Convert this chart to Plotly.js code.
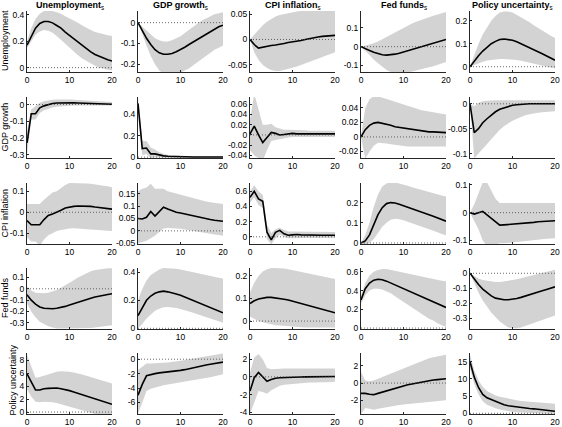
<!DOCTYPE html>
<html><head><meta charset="utf-8">
<script src="https://cdn.plot.ly/plotly-3.0.1.min.js"></script>
<style>html,body{margin:0;padding:0;background:#fff;overflow:hidden}#chart{width:562px;height:427px}</style>
</head><body><div id="chart"></div>
<script>
const horizon = [0,1,2,3,4,5,6,7,8,9,10,11,12,13,14,15,16,17,18,19,20];
const variables = ["Unemployment","GDP growth","CPI inflation","Fed funds","Policy uncertainty"];

// Row: Unemployment response
const mid_u_u = [0.17,0.24,0.30,0.335,0.35,0.35,0.34,0.32,0.30,0.27,0.245,0.22,0.19,0.165,0.14,0.12,0.10,0.085,0.07,0.06,0.05];
const lo_u_u  = [0.15,0.2,0.25,0.275,0.285,0.28,0.265,0.24,0.21,0.18,0.15,0.12,0.095,0.07,0.05,0.03,0.015,0.0,-0.01,-0.015,-0.02];
const hi_u_u  = [0.2,0.3,0.37,0.41,0.43,0.43,0.43,0.42,0.41,0.39,0.375,0.36,0.34,0.32,0.3,0.285,0.27,0.26,0.25,0.245,0.24];
const mid_u_g = [0,-0.04,-0.075,-0.105,-0.13,-0.145,-0.152,-0.152,-0.148,-0.14,-0.13,-0.118,-0.105,-0.093,-0.08,-0.068,-0.055,-0.043,-0.032,-0.02,-0.012];
const lo_u_g  = [0,-0.06,-0.11,-0.16,-0.2,-0.23,-0.245,-0.25,-0.25,-0.245,-0.24,-0.23,-0.22,-0.205,-0.19,-0.175,-0.16,-0.145,-0.13,-0.12,-0.11];
const hi_u_g  = [0,-0.02,-0.04,-0.06,-0.075,-0.085,-0.09,-0.09,-0.085,-0.075,-0.065,-0.05,-0.035,-0.02,-0.005,0.01,0.02,0.03,0.04,0.045,0.05];
const mid_u_c = [0,-0.01,-0.017,-0.015,-0.013,-0.012,-0.011,-0.01,-0.008,-0.006,-0.005,-0.003,-0.002,0,0.002,0.004,0.005,0.006,0.007,0.008,0.008];
const lo_u_c  = [0,-0.025,-0.04,-0.05,-0.056,-0.06,-0.062,-0.062,-0.06,-0.058,-0.056,-0.053,-0.05,-0.047,-0.043,-0.04,-0.037,-0.034,-0.031,-0.028,-0.025];
const hi_u_c  = [0,0.01,0.02,0.028,0.035,0.04,0.045,0.048,0.05,0.052,0.054,0.055,0.056,0.056,0.057,0.057,0.057,0.057,0.057,0.057,0.057];
const mid_u_f = [0,-0.008,-0.02,-0.03,-0.038,-0.043,-0.045,-0.044,-0.04,-0.035,-0.028,-0.021,-0.014,-0.007,0,0.007,0.014,0.02,0.026,0.032,0.038];
const lo_u_f  = [0,-0.02,-0.045,-0.07,-0.09,-0.11,-0.125,-0.135,-0.14,-0.14,-0.14,-0.138,-0.133,-0.128,-0.122,-0.116,-0.11,-0.104,-0.098,-0.09,-0.082];
const hi_u_f  = [0,0.005,0.01,0.018,0.028,0.04,0.052,0.065,0.078,0.09,0.102,0.113,0.123,0.133,0.142,0.15,0.158,0.165,0.172,0.178,0.185];
const mid_u_p = [0,0.025,0.048,0.068,0.085,0.1,0.11,0.118,0.12,0.119,0.115,0.108,0.1,0.092,0.083,0.074,0.065,0.056,0.047,0.038,0.028];
const lo_u_p  = [0,0.008,0.015,0.022,0.027,0.03,0.033,0.034,0.034,0.033,0.031,0.029,0.026,0.022,0.018,0.014,0.01,0.006,0.002,-0.003,-0.008];
const hi_u_p  = [0,0.05,0.1,0.14,0.17,0.2,0.22,0.235,0.24,0.24,0.235,0.225,0.215,0.205,0.193,0.18,0.168,0.157,0.146,0.135,0.125];

// Row: GDP growth response
const mid_g_u = [-0.23,-0.055,-0.055,-0.02,-0.008,0.0,0.006,0.009,0.01,0.01,0.01,0.01,0.009,0.008,0.007,0.006,0.005,0.004,0.003,0.002,0.002];
const lo_g_u  = [-0.3,-0.09,-0.09,-0.05,-0.035,-0.025,-0.018,-0.013,-0.01,-0.008,-0.007,-0.006,-0.006,-0.006,-0.006,-0.006,-0.006,-0.006,-0.006,-0.006,-0.006];
const hi_g_u  = [-0.16,-0.03,-0.01,0.01,0.02,0.025,0.028,0.03,0.031,0.03,0.03,0.028,0.027,0.025,0.023,0.022,0.02,0.018,0.017,0.016,0.015];
const mid_g_g = [0.5,0.08,0.085,0.03,0.03,0.018,0.012,0.008,0.006,0.005,0.004,0.003,0.003,0.002,0.002,0.002,0.001,0.001,0.001,0.001,0.001];
const lo_g_g  = [0.45,0.02,0.03,-0.01,0.0,-0.005,-0.005,-0.005,-0.004,-0.004,-0.003,-0.003,-0.003,-0.003,-0.003,-0.003,-0.003,-0.003,-0.003,-0.003,-0.003];
const hi_g_g  = [0.55,0.15,0.15,0.09,0.07,0.045,0.03,0.02,0.015,0.012,0.01,0.009,0.008,0.007,0.006,0.006,0.005,0.005,0.005,0.005,0.005];
const mid_g_c = [0.002,0.017,0.0,-0.015,-0.005,0.005,0.003,0.0,0.001,0.002,0.003,0.002,0.002,0.002,0.002,0.002,0.002,0.002,0.002,0.002,0.002];
const lo_g_c  = [-0.03,-0.04,-0.045,-0.05,-0.03,-0.012,-0.01,-0.008,-0.006,-0.005,-0.004,-0.004,-0.004,-0.004,-0.004,-0.004,-0.004,-0.004,-0.004,-0.004,-0.004];
const hi_g_c  = [0.03,0.08,0.05,0.02,0.02,0.022,0.015,0.012,0.01,0.01,0.01,0.009,0.009,0.009,0.008,0.008,0.008,0.008,0.008,0.008,0.008];
const mid_g_f = [0,0.01,0.016,0.019,0.02,0.019,0.018,0.016,0.014,0.013,0.012,0.011,0.01,0.009,0.008,0.007,0.007,0.007,0.007,0.006,0.006];
const lo_g_f  = [0,-0.03,-0.02,-0.012,-0.008,-0.008,-0.009,-0.01,-0.011,-0.012,-0.013,-0.013,-0.013,-0.013,-0.013,-0.013,-0.013,-0.013,-0.013,-0.013,-0.013];
const hi_g_f  = [0,0.04,0.052,0.056,0.056,0.054,0.052,0.05,0.048,0.046,0.044,0.042,0.04,0.039,0.037,0.036,0.035,0.034,0.033,0.032,0.031];
const mid_g_p = [0,-0.058,-0.05,-0.038,-0.03,-0.022,-0.016,-0.011,-0.008,-0.005,-0.003,-0.002,-0.001,0,0,0,0,0,0,0,0];
const lo_g_p  = [0,-0.11,-0.1,-0.09,-0.08,-0.07,-0.06,-0.052,-0.045,-0.039,-0.034,-0.03,-0.026,-0.023,-0.021,-0.019,-0.018,-0.017,-0.016,-0.015,-0.015];
const hi_g_p  = [0,-0.005,0.002,0.005,0.006,0.007,0.007,0.007,0.007,0.007,0.007,0.007,0.007,0.007,0.007,0.007,0.007,0.007,0.007,0.007,0.007];

// Row: CPI inflation response
const mid_c_u = [-0.04,-0.06,-0.06,-0.06,-0.035,-0.015,-0.008,0.0,0.01,0.02,0.025,0.028,0.03,0.03,0.03,0.028,0.025,0.022,0.02,0.017,0.015];
const lo_c_u  = [-0.12,-0.14,-0.14,-0.16,-0.13,-0.11,-0.1,-0.09,-0.085,-0.08,-0.078,-0.077,-0.078,-0.079,-0.08,-0.081,-0.082,-0.084,-0.086,-0.088,-0.09];
const hi_c_u  = [0.04,0.04,0.04,0.04,0.06,0.08,0.095,0.1,0.115,0.13,0.14,0.14,0.14,0.14,0.138,0.136,0.134,0.13,0.127,0.124,0.12];
const mid_c_g = [0.05,0.048,0.055,0.078,0.06,0.078,0.095,0.088,0.08,0.075,0.072,0.068,0.064,0.06,0.056,0.052,0.049,0.046,0.043,0.041,0.039];
const lo_c_g  = [-0.05,-0.045,-0.04,-0.03,-0.02,-0.005,0.01,0.012,0.012,0.01,0.008,0.005,0.002,-0.002,-0.005,-0.008,-0.01,-0.013,-0.015,-0.017,-0.02];
const hi_c_g  = [0.16,0.17,0.175,0.19,0.17,0.17,0.17,0.16,0.155,0.15,0.145,0.14,0.135,0.13,0.126,0.122,0.118,0.115,0.112,0.11,0.108];
const mid_c_c = [0.52,0.6,0.5,0.47,0.06,-0.04,0.06,0.085,0.04,0.02,0.025,0.03,0.025,0.022,0.02,0.02,0.02,0.02,0.02,0.02,0.02];
const lo_c_c  = [0.45,0.52,0.42,0.38,-0.03,-0.1,-0.02,0.03,0.0,-0.02,-0.02,-0.015,-0.015,-0.015,-0.015,-0.015,-0.015,-0.015,-0.015,-0.015,-0.015];
const hi_c_c  = [0.6,0.68,0.6,0.55,0.16,0.05,0.1,0.12,0.09,0.07,0.07,0.07,0.07,0.065,0.065,0.065,0.065,0.065,0.065,0.065,0.065];
const mid_c_f = [0,0.01,0.04,0.09,0.14,0.175,0.195,0.2,0.198,0.192,0.185,0.178,0.17,0.162,0.155,0.147,0.14,0.132,0.125,0.117,0.108];
const lo_c_f  = [0,-0.01,0.0,0.02,0.05,0.08,0.1,0.115,0.12,0.118,0.112,0.105,0.097,0.09,0.082,0.074,0.067,0.06,0.053,0.045,0.038];
const hi_c_f  = [0,0.04,0.1,0.18,0.24,0.28,0.295,0.3,0.3,0.295,0.29,0.283,0.276,0.27,0.263,0.257,0.25,0.245,0.24,0.235,0.23];
const mid_c_p = [0,-0.005,0.0,0.005,-0.008,-0.02,-0.03,-0.045,-0.044,-0.043,-0.042,-0.04,-0.039,-0.038,-0.036,-0.035,-0.033,-0.032,-0.031,-0.03,-0.029];
const lo_c_p  = [0,-0.03,-0.06,-0.1,-0.12,-0.12,-0.115,-0.11,-0.11,-0.11,-0.108,-0.106,-0.104,-0.102,-0.1,-0.098,-0.097,-0.095,-0.094,-0.093,-0.092];
const hi_c_p  = [0,0.03,0.07,0.11,0.11,0.08,0.05,0.035,0.035,0.035,0.035,0.035,0.035,0.035,0.035,0.035,0.035,0.035,0.035,0.035,0.035];

// Row: Fed funds response
const mid_f_u = [-0.053,-0.1,-0.135,-0.16,-0.172,-0.177,-0.176,-0.172,-0.165,-0.155,-0.143,-0.13,-0.118,-0.106,-0.095,-0.083,-0.073,-0.064,-0.056,-0.05,-0.044];
const lo_f_u  = [-0.13,-0.2,-0.25,-0.29,-0.31,-0.33,-0.34,-0.35,-0.35,-0.35,-0.35,-0.35,-0.35,-0.35,-0.35,-0.345,-0.34,-0.335,-0.33,-0.325,-0.32];
const hi_f_u  = [0.02,-0.015,-0.035,-0.04,-0.04,-0.035,-0.025,-0.01,0.01,0.03,0.05,0.075,0.1,0.12,0.14,0.155,0.165,0.172,0.178,0.18,0.18];
const mid_f_g = [0.09,0.15,0.2,0.23,0.25,0.26,0.265,0.26,0.255,0.245,0.235,0.222,0.21,0.197,0.183,0.17,0.157,0.145,0.133,0.12,0.11];
const lo_f_g  = [0.0,0.03,0.07,0.1,0.125,0.14,0.15,0.152,0.15,0.145,0.138,0.13,0.12,0.11,0.1,0.09,0.08,0.07,0.06,0.05,0.04];
const hi_f_g  = [0.2,0.28,0.34,0.38,0.4,0.42,0.43,0.43,0.43,0.425,0.42,0.413,0.405,0.398,0.39,0.383,0.376,0.37,0.365,0.36,0.355];
const mid_f_c = [0.078,0.09,0.098,0.103,0.105,0.105,0.103,0.1,0.097,0.093,0.088,0.083,0.078,0.073,0.068,0.063,0.058,0.052,0.047,0.042,0.037];
const lo_f_c  = [0.02,0.01,0.0,-0.005,-0.01,-0.015,-0.018,-0.02,-0.022,-0.024,-0.025,-0.026,-0.027,-0.028,-0.028,-0.028,-0.028,-0.028,-0.028,-0.028,-0.028];
const hi_f_c  = [0.127,0.17,0.2,0.22,0.23,0.235,0.235,0.235,0.233,0.23,0.226,0.222,0.218,0.214,0.21,0.206,0.202,0.198,0.194,0.19,0.186];
const mid_f_f = [0.3,0.42,0.48,0.51,0.52,0.515,0.5,0.48,0.46,0.44,0.42,0.4,0.38,0.36,0.34,0.32,0.3,0.28,0.26,0.24,0.22];
const lo_f_f  = [0.26,0.35,0.4,0.42,0.42,0.41,0.39,0.37,0.34,0.31,0.28,0.25,0.22,0.19,0.16,0.13,0.1,0.08,0.05,0.03,0.01];
const hi_f_f  = [0.35,0.48,0.56,0.6,0.62,0.63,0.63,0.62,0.61,0.6,0.59,0.58,0.57,0.56,0.55,0.54,0.53,0.52,0.51,0.505,0.5];
const mid_f_p = [0,-0.04,-0.075,-0.105,-0.13,-0.15,-0.165,-0.172,-0.176,-0.176,-0.173,-0.168,-0.16,-0.152,-0.143,-0.134,-0.125,-0.116,-0.107,-0.098,-0.09];
const lo_f_p  = [0,-0.07,-0.13,-0.18,-0.22,-0.26,-0.29,-0.32,-0.34,-0.36,-0.365,-0.365,-0.36,-0.35,-0.34,-0.33,-0.32,-0.31,-0.3,-0.29,-0.28];
const hi_f_p  = [0,-0.02,-0.035,-0.045,-0.05,-0.055,-0.058,-0.058,-0.055,-0.05,-0.045,-0.04,-0.033,-0.026,-0.018,-0.01,-0.003,0.005,0.012,0.018,0.024];

// Row: Policy uncertainty response
const mid_p_u = [5.9,4.7,3.4,3.4,3.6,3.65,3.7,3.7,3.6,3.5,3.3,3.1,2.9,2.7,2.5,2.3,2.1,1.85,1.6,1.4,1.2];
const lo_p_u  = [3.5,2.4,1.6,1.5,1.6,1.6,1.5,1.4,1.2,1.0,0.8,0.6,0.4,0.2,0.0,-0.2,-0.3,-0.4,-0.4,-0.4,-0.4];
const hi_p_u  = [8.8,7.0,5.3,5.4,5.6,5.9,6.1,6.2,6.3,6.3,6.2,6.1,6.0,5.8,5.6,5.4,5.2,5.0,4.8,4.6,4.4];
const mid_p_g = [-5,-3.5,-2.3,-2.1,-2.0,-1.9,-1.85,-1.8,-1.75,-1.65,-1.55,-1.45,-1.3,-1.15,-1.0,-0.9,-0.8,-0.7,-0.6,-0.5,-0.4];
const lo_p_g  = [-7.6,-6,-4.4,-4.1,-3.9,-3.7,-3.6,-3.5,-3.4,-3.35,-3.3,-3.2,-3.1,-3.0,-2.9,-2.75,-2.6,-2.5,-2.35,-2.2,-2.1];
const hi_p_g  = [-1.5,-1.0,-0.6,-0.6,-0.6,-0.55,-0.5,-0.45,-0.4,-0.3,-0.2,-0.1,0.0,0.1,0.2,0.3,0.4,0.5,0.6,0.7,0.8];
const mid_p_c = [-1.6,-0.1,0.5,0.0,-0.5,-0.3,-0.15,-0.1,-0.1,-0.08,-0.05,-0.03,-0.02,0.0,0.0,0.01,0.02,0.03,0.04,0.05,0.05];
const lo_p_c  = [-4.2,-2.8,-1.6,-1.7,-1.9,-1.5,-1.2,-1.0,-0.9,-0.85,-0.8,-0.75,-0.7,-0.7,-0.65,-0.65,-0.6,-0.6,-0.6,-0.55,-0.55];
const hi_p_c  = [0.5,2.2,2.6,2.0,1.0,0.85,0.9,0.95,0.95,0.95,0.95,0.95,0.95,0.95,0.95,0.95,0.95,0.95,0.95,0.95,0.95];
const mid_p_f = [-1.2,-1.2,-1.3,-1.35,-1.2,-1.05,-0.9,-0.75,-0.6,-0.45,-0.3,-0.2,-0.1,0.0,0.1,0.2,0.3,0.35,0.4,0.45,0.5];
const lo_p_f  = [-3.6,-2.9,-3.0,-3.1,-3.0,-2.9,-2.8,-2.7,-2.6,-2.55,-2.5,-2.45,-2.4,-2.35,-2.3,-2.25,-2.2,-2.15,-2.1,-2.05,-2.0];
const hi_p_f  = [1.3,0.3,0.2,0.3,0.5,0.7,0.9,1.1,1.3,1.5,1.7,1.9,2.1,2.3,2.5,2.7,2.9,3.0,3.1,3.2,3.3];
const mid_p_p = [15,10.5,7.5,5.5,4.5,4.0,3.4,2.9,2.5,2.2,2.0,1.85,1.7,1.55,1.4,1.3,1.15,1.0,0.9,0.75,0.6];
const lo_p_p  = [13,8.5,5.5,3.5,2.5,1.9,1.5,1.1,0.8,0.6,0.4,0.3,0.2,0.1,0.05,0.0,0,-0.05,-0.1,-0.1,-0.1];
const hi_p_p  = [17,12.5,9.5,7.7,6.5,5.8,5.2,4.8,4.5,4.2,4.0,3.8,3.6,3.5,3.4,3.3,3.2,3.1,3.0,2.9,2.8];

// y tick values per panel (row-major)
const yTicks = [
  [0,0.2,0.4],[-0.2,-0.1,0],[-0.05,0,0.05],[-0.1,0,0.1],[0,0.1,0.2],
  [-0.3,-0.2,-0.1,0],[0,0.2,0.4],[-0.04,-0.02,0,0.02,0.04,0.06],[-0.02,0,0.02,0.04],[-0.1,-0.05,0],
  [-0.1,0,0.1],[-0.05,0,0.05,0.1,0.15],[0,0.2,0.4,0.6],[0,0.1,0.2],[-0.1,0,0.1],
  [-0.3,-0.2,-0.1,0,0.1],[0,0.2,0.4],[0,0.1,0.2],[0,0.2,0.4,0.6],[-0.3,-0.2,-0.1,0],
  [0,2,4,6,8],[-6,-4,-2,0],[-4,-2,0,2],[-2,0,2],[0,5,10,15]
];
const xTicks = [0,10,20];

// ---- assembly ----
const panels = [
  [mid_u_u,lo_u_u,hi_u_u],[mid_u_g,lo_u_g,hi_u_g],[mid_u_c,lo_u_c,hi_u_c],[mid_u_f,lo_u_f,hi_u_f],[mid_u_p,lo_u_p,hi_u_p],
  [mid_g_u,lo_g_u,hi_g_u],[mid_g_g,lo_g_g,hi_g_g],[mid_g_c,lo_g_c,hi_g_c],[mid_g_f,lo_g_f,hi_g_f],[mid_g_p,lo_g_p,hi_g_p],
  [mid_c_u,lo_c_u,hi_c_u],[mid_c_g,lo_c_g,hi_c_g],[mid_c_c,lo_c_c,hi_c_c],[mid_c_f,lo_c_f,hi_c_f],[mid_c_p,lo_c_p,hi_c_p],
  [mid_f_u,lo_f_u,hi_f_u],[mid_f_g,lo_f_g,hi_f_g],[mid_f_c,lo_f_c,hi_f_c],[mid_f_f,lo_f_f,hi_f_f],[mid_f_p,lo_f_p,hi_f_p],
  [mid_p_u,lo_p_u,hi_p_u],[mid_p_g,lo_p_g,hi_p_g],[mid_p_c,lo_p_c,hi_p_c],[mid_p_f,lo_p_f,hi_p_f],[mid_p_p,lo_p_p,hi_p_p]
];
const yRanges = [
  [-0.033,0.43],[-0.237,0.056],[-0.064,0.056],[-0.135,0.19],[-0.023,0.242],
  [-0.32,0.045],[-0.008,0.56],[-0.045,0.074],[-0.029,0.055],[-0.109,0.0137],
  [-0.152,0.14],[-0.053,0.193],[-0.095,0.71],[-0.005,0.297],[-0.113,0.107],
  [-0.354,0.183],[-0.005,0.43],[-0.035,0.235],[-0.01,0.64],[-0.37,0.035],
  [-0.3,9.1],[-7.6,0.86],[-4.2,2.7],[-3.6,3.5],[-0.2,17.5]
];

const W = 562, H = 427;
const colLeft = [27,138,250,361,470], plotW = 85;
const rowTop = [11,97,183,268,353], plotH = 61;
const rowLabelX = [5,4.5,4.5,5,12.5];
const rowLabelY = [41,127,213,298,380];
const axisColor = '#262626';
const fontFam = 'Liberation Sans, Arial, sans-serif';
const tickFont = {family:fontFam, size:8.5, color:'#000'};

const traces = [], shapes = [], annotations = [];
const layout = {
  width:W, height:H, margin:{l:0,r:0,t:0,b:0},
  paper_bgcolor:'#fff', plot_bgcolor:'#fff', showlegend:false
};

function fmt(v){ return String(v); }

for (let r=0;r<5;r++){
  for (let c=0;c<5;c++){
    const k = r*5+c+1, idx = k-1;
    const xa = 'x'+(k===1?'':k), ya = 'y'+(k===1?'':k);
    const [mid,lo,hi] = panels[idx];
    traces.push({x:horizon,y:lo,xaxis:xa,yaxis:ya,mode:'lines',line:{width:0,color:'rgba(0,0,0,0)'},hoverinfo:'skip'});
    traces.push({x:horizon,y:hi,xaxis:xa,yaxis:ya,mode:'lines',fill:'tonexty',fillcolor:'#d3d3d3',line:{width:0,color:'rgba(0,0,0,0)'},hoverinfo:'skip'});
    traces.push({x:horizon,y:mid,xaxis:xa,yaxis:ya,mode:'lines',line:{width:1.6,color:'#000'}});
    const xd = [colLeft[c]/W,(colLeft[c]+plotW)/W];
    const yd = [1-(rowTop[r]+plotH)/H, 1-rowTop[r]/H];
    layout['xaxis'+(k===1?'':k)] = {
      domain:xd, anchor:ya, range:[0,20], tickvals:xTicks, ticktext:xTicks.map(fmt),
      showline:true, linecolor:axisColor, linewidth:1, ticks:'inside', ticklen:2, tickcolor:axisColor,
      showgrid:false, zeroline:false, tickfont:tickFont, fixedrange:true, ticklabeloverflow:'allow'
    };
    layout['yaxis'+(k===1?'':k)] = {
      domain:yd, anchor:xa, range:yRanges[idx], tickvals:yTicks[idx], ticktext:yTicks[idx].map(fmt),
      showline:true, linecolor:axisColor, linewidth:1, ticks:'inside', ticklen:2, tickcolor:axisColor,
      showgrid:false, zeroline:false, tickfont:tickFont, fixedrange:true, ticklabeloverflow:'allow'
    };
    shapes.push({type:'line',xref:xa,yref:ya,x0:0,x1:20,y0:0,y1:0,layer:'above',
                 line:{color:'#444',width:0.8,dash:'1px,2px'}});
  }
}

for (let c=0;c<5;c++){
  annotations.push({xref:'paper',yref:'paper',x:(colLeft[c]+plotW/2)/W,y:1-5/H,xanchor:'center',yanchor:'middle',
    showarrow:false,text:'<b>'+variables[c]+'</b><sub>s</sub>',font:{family:fontFam,size:9,color:'#000'}});
}
for (let r=0;r<5;r++){
  annotations.push({xref:'paper',yref:'paper',x:rowLabelX[r]/W,y:1-rowLabelY[r]/H,xanchor:'center',yanchor:'middle',
    textangle:-90,showarrow:false,text:variables[r],font:{family:fontFam,size:9,color:'#000'}});
}
layout.shapes = shapes;
layout.annotations = annotations;

Plotly.newPlot('chart', traces, layout, {staticPlot:true, displayModeBar:false});
</script>
</body></html>
